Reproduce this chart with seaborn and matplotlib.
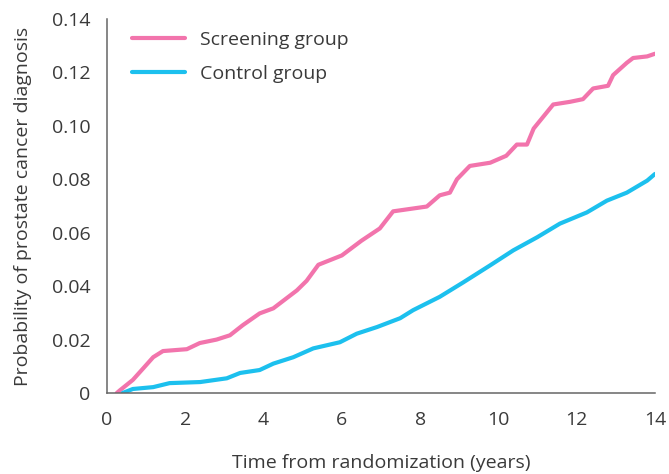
import matplotlib
matplotlib.use("Agg")
import matplotlib.pyplot as plt
import seaborn as sns
import pandas as pd
from matplotlib.lines import Line2D

screen_t = [0.25, 0.33, 0.66, 0.93, 1.18, 1.43, 2.04, 2.37, 2.8, 3.14, 3.47, 3.9, 4.25, 4.59,
            4.85, 5.1, 5.4, 6.0, 6.5, 6.97, 7.31, 8.17, 8.5, 8.76, 8.94, 9.27, 9.79, 10.2,
            10.47, 10.73, 10.9, 11.4, 11.83, 12.16, 12.42, 12.8, 12.93, 13.28, 13.44, 13.8, 14.0]
screen_p = [0.0, 0.001, 0.0049, 0.0093, 0.0134, 0.0157, 0.0164, 0.0187, 0.020, 0.0216, 0.0254,
            0.0298, 0.0317, 0.0355, 0.0384, 0.042, 0.048, 0.0515, 0.057, 0.0616, 0.068, 0.0698,
            0.074, 0.075, 0.080, 0.085, 0.0862, 0.0888, 0.093, 0.093, 0.099, 0.108, 0.109,
            0.110, 0.114, 0.115, 0.119, 0.1236, 0.1254, 0.126, 0.127]

control_t = [0.4, 0.66, 1.18, 1.6, 2.38, 3.06, 3.4, 3.9, 4.25, 4.76, 5.27, 5.95, 6.38, 6.9,
             7.49, 7.82, 8.5, 9.1, 9.79, 10.38, 10.99, 11.57, 12.26, 12.77, 13.28, 13.8, 14.0]
control_p = [0.0, 0.0015, 0.0022, 0.0037, 0.0041, 0.0055, 0.0075, 0.0086, 0.011, 0.0134,
             0.0167, 0.019, 0.0222, 0.0247, 0.028, 0.031, 0.036, 0.0414, 0.0478, 0.0534,
             0.0583, 0.0634, 0.0676, 0.072, 0.075, 0.0795, 0.082]

groups = ["Screening group", "Control group"]
x_ticks = [0, 2, 4, 6, 8, 10, 12, 14]
y_ticks = [0, 0.02, 0.04, 0.06, 0.08, 0.10, 0.12, 0.14]
y_tick_labels = ["0", "0.02", "0.04", "0.06", "0.08", "0.10", "0.12", "0.14"]

df = pd.concat([
    pd.DataFrame({"t": screen_t, "p": screen_p, "group": groups[0]}),
    pd.DataFrame({"t": control_t, "p": control_p, "group": groups[1]}),
])

sns.set_style("white")
plt.rcParams["font.family"] = ["Open Sans", "DejaVu Sans"]
text_color = "#3a3a3a"
spine_color = "#666666"
fs = 14

fig = plt.figure(figsize=(6.69, 4.74), dpi=100)
ax = fig.add_axes([107 / 669, 1 - 393 / 474, (655 - 107) / 669, (393 - 19) / 474])

palette = {groups[0]: "#F274AC", groups[1]: "#1CC0EE"}
sns.lineplot(data=df, x="t", y="p", hue="group", palette=palette, linewidth=3.0,
             ax=ax, legend=False, sort=False, estimator=None)

ax.set_xlim(0, 14)
ax.set_ylim(0, 0.14)
ax.set_xticks(x_ticks)
ax.set_xticklabels([str(v) for v in x_ticks])
ax.set_yticks(y_ticks)
ax.set_yticklabels(y_tick_labels)

for s in ["top", "right"]:
    ax.spines[s].set_visible(False)
for s in ["left", "bottom"]:
    ax.spines[s].set_color(spine_color)
    ax.spines[s].set_linewidth(1.1)

ax.tick_params(axis="both", direction="out", length=8, width=1.1, color=spine_color,
               labelsize=fs, labelcolor=text_color, pad=4)
ax.tick_params(axis="x", pad=5)
ax.set_xlabel("Time from randomization (years)", fontsize=fs, color=text_color, labelpad=18)
ax.set_ylabel("Probability of prostate cancer diagnosis", fontsize=fs, color=text_color, labelpad=14)

handles = [Line2D([0], [0], color=palette[g], lw=3.0) for g in groups]
leg = ax.legend(handles, groups, loc="upper left", bbox_to_anchor=(0.02, 1.005), frameon=False,
                fontsize=fs, handlelength=2.75, handletextpad=0.75, labelspacing=0.85,
                borderaxespad=0.3)
for t in leg.get_texts():
    t.set_color(text_color)

fig.savefig("out.png", dpi=100)
